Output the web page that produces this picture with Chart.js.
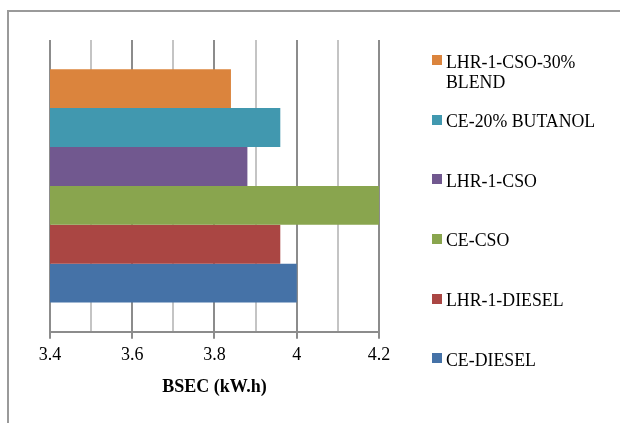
<!DOCTYPE html>
<html>
<head>
<meta charset="utf-8">
<script src="https://cdn.jsdelivr.net/npm/chart.js@4.4.1/dist/chart.umd.min.js"></script>
<style>
  html, body { margin: 0; padding: 0; background: #ffffff; overflow: hidden; }
  #wrap { position: relative; width: 620px; height: 423px; }
  #frame { position: absolute; left: 7px; top: 10px; width: 700px; height: 500px;
           border-left: 2px solid #9a9a9a; border-top: 2px solid #9a9a9a; }
  canvas { position: absolute; left: 0; top: 0; }
  #legend { position: absolute; left: 432px; top: 51.7px; margin: 0; padding: 0; list-style: none;
            font-family: 'Liberation Serif', 'Times New Roman', serif; font-size: 17.8px; color: #000; }
  #legend li { position: relative; height: 59.6px; }
  #legend .box { position: absolute; left: 0; top: 3.5px; width: 10px; height: 10px; }
  #legend .txt { position: absolute; left: 14px; top: 0; line-height: 20px; white-space: nowrap; }
</style>
</head>
<body>
<div id="wrap">
  <div id="frame"></div>
  <canvas id="c" width="620" height="423"></canvas>
  <ul id="legend"></ul>
</div>
<script>
// ---- data (series order as in the source workbook) ----
const categories = ['BSEC'];
const seriesNames = ['CE-DIESEL', 'LHR-1-DIESEL', 'CE-CSO', 'LHR-1-CSO', 'CE-20% BUTANOL', 'LHR-1-CSO-30% BLEND'];
const bsecValues = [4.0, 3.96, 4.2, 3.88, 3.96, 3.84];
const seriesColors = ['#4572A7', '#AA4643', '#89A54E', '#71588F', '#4198AF', '#DB843D'];
const legendLines = [['CE-DIESEL'], ['LHR-1-DIESEL'], ['CE-CSO'], ['LHR-1-CSO'], ['CE-20% BUTANOL'], ['LHR-1-CSO-30%', 'BLEND']];
const axisMin = 3.4;
const axisMax = 4.2;
const axisStep = 0.1;
const axisTitle = 'BSEC (kW.h)';

// last series drawn on top (as in the original), so build datasets reversed
const order = seriesNames.map((_, i) => i).reverse();
const datasets = order.map(i => ({
  label: seriesNames[i],
  data: [bsecValues[i]],
  backgroundColor: seriesColors[i],
  borderWidth: 0,
  barPercentage: 1.0,
  categoryPercentage: 0.8
}));

const FONT = "'Liberation Serif', 'Times New Roman', serif";
const isMajor = v => Math.round(v * 10) % 2 === 0;

const chart = new Chart(document.getElementById('c'), {
  type: 'bar',
  data: { labels: categories, datasets },
  options: {
    indexAxis: 'y',
    responsive: false,
    animation: false,
    devicePixelRatio: 1,
    layout: { padding: { left: 50, top: 40, right: 241, bottom: 14 } },
    scales: {
      x: {
        min: axisMin,
        max: axisMax,
        ticks: {
          stepSize: axisStep,
          autoSkip: false,
          maxRotation: 0,
          padding: 6,
          color: '#000000',
          font: { family: FONT, size: 18 },
          callback: v => isMajor(v) ? String(Math.round(v * 10) / 10) : ''
        },
        grid: {
          color: c => isMajor(c.tick.value) ? '#8c8c8c' : '#c4c4c4',
          tickColor: c => isMajor(c.tick.value) ? '#8c8c8c' : 'rgba(0,0,0,0)',
          lineWidth: 2,
          tickWidth: 2,
          tickLength: 7
        },
        border: { display: true, color: '#8c8c8c', width: 2 },
        title: {
          display: true,
          text: axisTitle,
          color: '#000000',
          font: { family: FONT, size: 18, weight: 'bold' },
          padding: { top: 4, bottom: 11 }
        }
      },
      y: { display: false }
    },
    plugins: {
      tooltip: { enabled: false },
      legend: { display: false }
    }
  }
});

// legend built from the chart's own datasets (top to bottom as drawn)
const ul = document.getElementById('legend');
chart.data.datasets.forEach(ds => {
  const idx = seriesNames.indexOf(ds.label);
  const li = document.createElement('li');
  const box = document.createElement('span');
  box.className = 'box';
  box.style.background = ds.backgroundColor;
  const txt = document.createElement('span');
  txt.className = 'txt';
  txt.innerHTML = legendLines[idx].map(s => s.replace(/&/g, '&amp;').replace(/</g, '&lt;')).join('<br>');
  li.appendChild(box);
  li.appendChild(txt);
  ul.appendChild(li);
});
</script>
</body>
</html>
